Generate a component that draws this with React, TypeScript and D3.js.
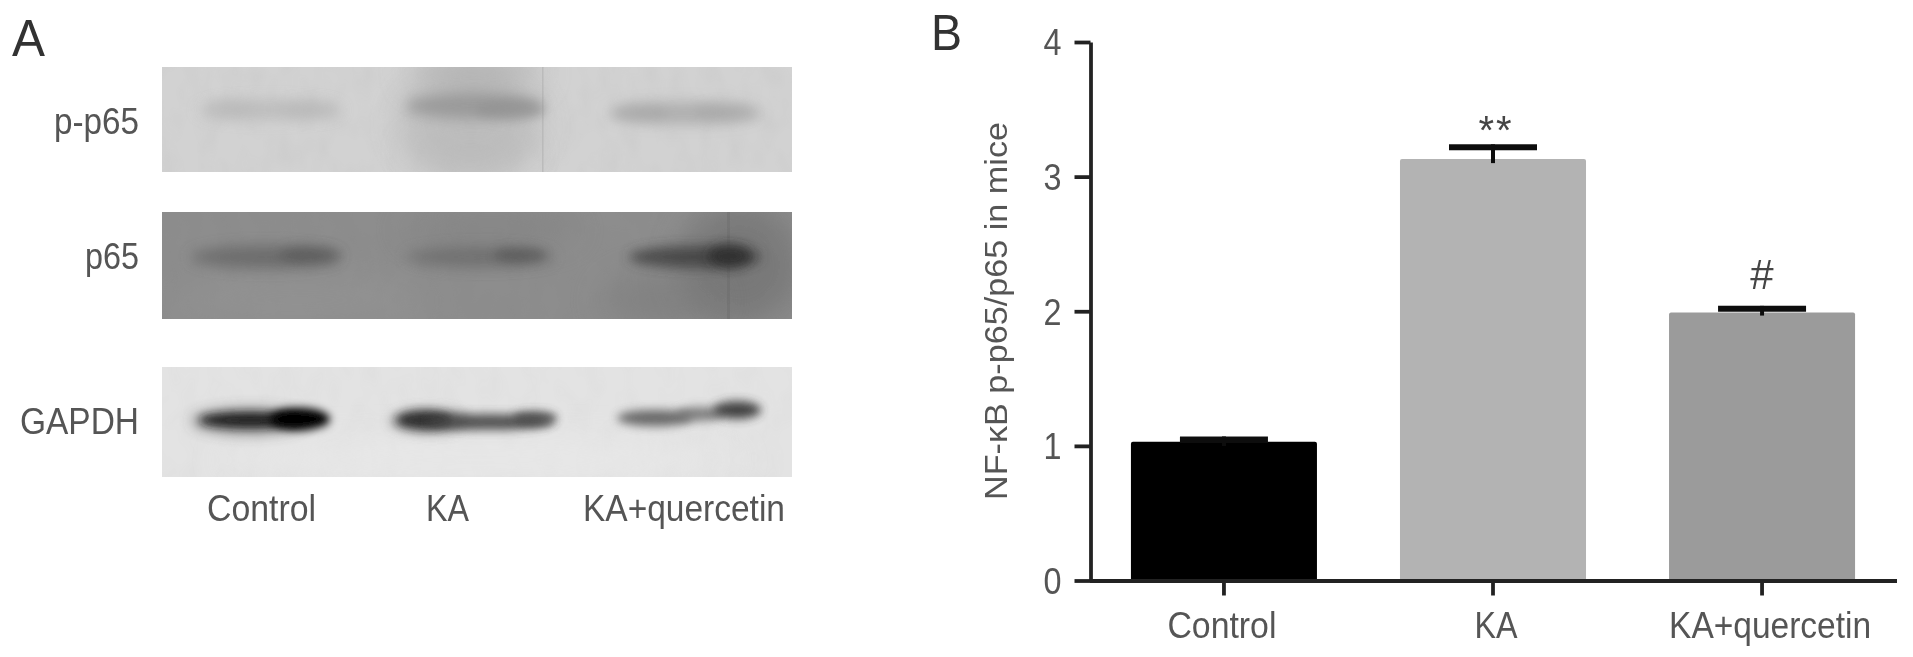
import React, { useEffect, useRef } from "react";
import * as d3 from "d3";

const categories = ["Control", "KA", "KA+quercetin"];
const ratioMeans = [1.03, 3.13, 1.99];
const ratioErrors = [0.04, 0.11, 0.05];
const significance = ["", "**", "#"];
const yTicks = [0, 1, 2, 3, 4];
const blotNames = ["p-p65", "p65", "GAPDH"];
const yTitle = "NF-κB p-p65/p65 in mice";

const FONT = "'Liberation Sans', Arial, sans-serif";
const TEXT = "#555";
const LABEL_SIZE = 36;
const categoryWidths = [109, 43, 202];
const blotNameWidths = [85, 54, 119];

// Blot strips are pictures, not data: tone and density layout of each strip.
const strips = [
  { top: 67, bottom: 172, bg: "#d2d2d2" },
  { top: 212, bottom: 319, bg: "#8d8d8d" },
  { top: 367, bottom: 477, bg: "#e3e3e3" },
];
const BLOT_L = 162;
const BLOT_R = 792;
// [strip, cx, cy, rx, ry, shade, opacity]
const patches: [number, number, number, number, number, string, number][] = [
  [0, 470, 125, 72, 56, "#bbb", 0.85],
  [0, 475, 72, 66, 22, "#a8a8a8", 0.6],
  [0, 470, 152, 60, 18, "#b8b8b8", 0.5],
  [1, 740, 265, 60, 60, "#6c6c6c", 0.6],
  [1, 300, 300, 130, 24, "#9a9a9a", 0.4],
  [1, 490, 230, 90, 20, "#7d7d7d", 0.4],
  [1, 660, 300, 60, 30, "#777", 0.45],
  [2, 480, 460, 260, 22, "#ebebeb", 0.6],
];
const bands: [number, number, number, number, number, string, number, number][] = [
  [0, 270, 110, 72, 10, "#b6b6b6", 0.7, 7],
  [0, 232, 108, 26, 8, "#b0b0b0", 0.35, 7],
  [0, 310, 110, 30, 8, "#aeaeae", 0.35, 7],
  [0, 475, 106, 70, 13, "#8f8f8f", 0.75, 7],
  [0, 510, 110, 35, 9, "#8c8c8c", 0.45, 5],
  [0, 685, 113, 76, 11, "#a6a6a6", 0.8, 7],
  [0, 640, 113, 28, 8, "#9e9e9e", 0.35, 6],
  [0, 725, 112, 30, 8, "#a0a0a0", 0.35, 6],
  [1, 265, 257, 74, 11, "#5c5c5c", 0.65, 7],
  [1, 310, 255, 32, 8, "#4e4e4e", 0.5, 6],
  [1, 480, 257, 74, 10, "#5e5e5e", 0.6, 7],
  [1, 520, 255, 26, 8, "#505050", 0.5, 5],
  [1, 695, 257, 66, 11, "#3e3e3e", 0.8, 6],
  [1, 730, 256, 22, 12, "#222", 0.65, 6],
  [2, 250, 421, 58, 12, "#444", 0.7, 7],
  [2, 250, 420, 50, 7, "#1a1a1a", 0.95, 4],
  [2, 300, 419, 30, 11, "#050505", 1, 4],
  [2, 430, 421, 40, 12, "#555", 0.6, 6],
  [2, 425, 420, 28, 9, "#282828", 0.9, 4],
  [2, 490, 422, 64, 8, "#444", 0.9, 5],
  [2, 535, 418, 22, 7, "#444", 0.8, 4],
  [2, 655, 418, 38, 8, "#5c5c5c", 0.9, 5],
  [2, 700, 414, 24, 7, "#666", 0.8, 5],
  [2, 737, 410, 24, 9, "#3a3a3a", 0.95, 5],
];

const x = d3
  .scaleBand<string>()
  .domain(categories)
  .range([1089.5, 1896.5])
  .paddingInner(0.3086)
  .paddingOuter(0.154);
const y = d3.scaleLinear().domain([0, 4]).range([580.5, 42]);
const barShades = ["#000000", "#b3b3b3", "#9b9b9b"];

export default function App() {
  const xRef = useRef<SVGGElement>(null);
  const yRef = useRef<SVGGElement>(null);
  useEffect(() => {
    const style = (g: any) => {
      g.selectAll("path").attr("stroke", "#222").attr("stroke-width", 3.8);
      g.selectAll("line").attr("stroke", "#222").attr("stroke-width", 3.8);
      g.selectAll("text")
        .attr("font-family", FONT)
        .attr("font-size", LABEL_SIZE)
        .attr("fill", TEXT);
    };
    const gx = d3
      .select(xRef.current)
      .call(d3.axisBottom(x).tickSize(15).tickSizeOuter(0).tickPadding(17) as any);
    style(gx);
    gx.selectAll("text")
      .attr("text-anchor", "middle")
      .attr("dx", (_: any, i: number) => [-2, 3, 8][i])
      .attr("textLength", (_: any, i: number) => categoryWidths[i])
      .attr("lengthAdjust", "spacingAndGlyphs");
    const gy = d3
      .select(yRef.current)
      .call(
        d3
          .axisLeft(y)
          .tickValues(yTicks)
          .tickFormat(d3.format("d") as any)
          .tickSize(16)
          .tickSizeOuter(0)
          .tickPadding(13) as any,
      );
    style(gy);
    gy.selectAll("text")
      .attr("dy", "0.36em")
      .attr("textLength", 18)
      .attr("lengthAdjust", "spacingAndGlyphs");
  }, []);

  return (
    <svg
      width={1913}
      height={657}
      style={{ position: "absolute", left: 0, top: 0, display: "block", background: "#fff" }}
    >
      <defs>
        <filter id="soft" x="-2%" y="-2%" width="104%" height="104%">
          <feGaussianBlur stdDeviation="0.7" />
        </filter>
        {[4, 5, 6, 7, 16].map((s) => (
          <filter key={s} id={`b${s}`} x="-60%" y="-150%" width="220%" height="400%">
            <feGaussianBlur stdDeviation={s} />
          </filter>
        ))}
        <filter id="mottle" x="0" y="0" width="100%" height="100%">
          <feTurbulence type="fractalNoise" baseFrequency="0.05 0.03" numOctaves={2} seed={4} />
          <feColorMatrix
            type="matrix"
            values="0 0 0 0 0.2  0 0 0 0 0.2  0 0 0 0 0.2  1.6 0 0 0 -0.62"
          />
        </filter>
        {strips.map((s, i) => (
          <clipPath key={i} id={`strip${i}`}>
            <rect x={BLOT_L} y={s.top} width={BLOT_R - BLOT_L} height={s.bottom - s.top} />
          </clipPath>
        ))}
      </defs>
      <g filter="url(#soft)">
        {/* Panel A */}
        <text x={12} y={56} fontFamily={FONT} fontSize={52} fill="#333" textLength={33} lengthAdjust="spacingAndGlyphs">A</text>
        {strips.map((s, i) => (
          <g key={i} clipPath={`url(#strip${i})`}>
            <rect x={BLOT_L} y={s.top} width={BLOT_R - BLOT_L} height={s.bottom - s.top} fill={s.bg} />
            <rect
              x={BLOT_L}
              y={s.top}
              width={BLOT_R - BLOT_L}
              height={s.bottom - s.top}
              filter="url(#mottle)"
              opacity={[0.06, 0.12, 0.035][i]}
            />
            {patches
              .filter((p) => p[0] === i)
              .map((p, k) => (
                <ellipse key={k} cx={p[1]} cy={p[2]} rx={p[3]} ry={p[4]} fill={p[5]} opacity={p[6]} filter="url(#b16)" />
              ))}
            {i === 0 && <rect x={542} y={s.top} width={1.5} height={105} fill="#b4b4b4" opacity={0.7} />}
            {i === 1 && <rect x={727} y={s.top} width={3} height={107} fill="#666" opacity={0.35} />}
            {bands
              .filter((b) => b[0] === i)
              .map((b, k) => (
                <ellipse key={k} cx={b[1]} cy={b[2]} rx={b[3]} ry={b[4]} fill={b[5]} opacity={b[6]} filter={`url(#b${b[7]})`} />
              ))}
          </g>
        ))}
        {blotNames.map((n, i) => (
          <text
            key={n}
            x={139}
            y={[134, 269, 434][i]}
            textAnchor="end"
            fontFamily={FONT}
            fontSize={LABEL_SIZE}
            fill={TEXT}
            textLength={blotNameWidths[i]}
            lengthAdjust="spacingAndGlyphs"
          >
            {n}
          </text>
        ))}
        {categories.map((c, i) => (
          <text
            key={c}
            x={[207, 426, 583][i]}
            y={521}
            fontFamily={FONT}
            fontSize={LABEL_SIZE}
            fill={TEXT}
            textLength={categoryWidths[i]}
            lengthAdjust="spacingAndGlyphs"
          >
            {c}
          </text>
        ))}

        {/* Panel B */}
        <text x={931} y={50} fontFamily={FONT} fontSize={50} fill="#333" textLength={31} lengthAdjust="spacingAndGlyphs">B</text>
        <text
          transform={`translate(1007,${(122 + 500) / 2}) rotate(-90)`}
          textAnchor="middle"
          fontFamily={FONT}
          fontSize={31}
          fill={TEXT}
          textLength={378}
          lengthAdjust="spacingAndGlyphs"
        >
          {yTitle}
        </text>
        {categories.map((c, i) => {
          const cx = x(c)! + x.bandwidth() / 2;
          const top = y(ratioMeans[i] + ratioErrors[i]);
          return (
            <g key={c}>
              <rect
                x={x(c)}
                y={y(ratioMeans[i])}
                width={x.bandwidth()}
                height={y(0) - y(ratioMeans[i])}
                fill={barShades[i]}
                rx={2}
              />
              <line x1={cx} x2={cx} y1={top} y2={y(ratioMeans[i]) + (i === 2 ? 3 : 4)} stroke="#111" strokeWidth={4} />
              <line x1={cx - 44} x2={cx + 44} y1={top + 3} y2={top + 3} stroke="#111" strokeWidth={6} />
              {significance[i] && (
                <text
                  x={cx + (i === 1 ? 3 : 0)}
                  y={i === 1 ? 144 : 289}
                  textAnchor="middle"
                  fontFamily={FONT}
                  fontSize={i === 1 ? 40 : 42}
                  fill="#444"
                  letterSpacing={i === 1 ? 2 : 0}
                >
                  {significance[i]}
                </text>
              )}
            </g>
          );
        })}
        <g ref={xRef} transform="translate(0,580.5)" />
        <g ref={yRef} transform="translate(1090.5,0)" />
      </g>
    </svg>
  );
}
